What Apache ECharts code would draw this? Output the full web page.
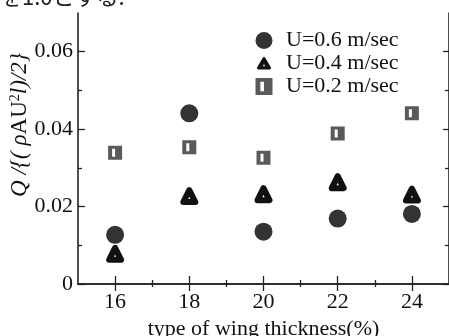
<!DOCTYPE html>
<html>
<head>
<meta charset="utf-8">
<script src="https://cdn.jsdelivr.net/npm/echarts@6/dist/echarts.min.js"></script>
<style>
  html, body { margin: 0; padding: 0; background: #fff; }
  #chart { width: 449px; height: 336px; }
</style>
</head>
<body>
<div id="chart"></div>
<script>
// wing thickness (%)
const thickness = [16, 18, 20, 22, 24]
const u06 = [0.0127, 0.0441, 0.0135, 0.0169, 0.0181]
const u04 = [0.0078, 0.0227, 0.0232, 0.0263, 0.0231]
const u02 = [0.0339, 0.0353, 0.0326, 0.0389, 0.0441]
const xMajor = [16, 18, 20, 22, 24]
const xMinor = [17, 19, 21, 23]
const yMajor = [0, 0.02, 0.04, 0.06]
const yMinor = [0.01, 0.03, 0.05]

const font = 'Liberation Serif'
const ink = '#222'
const squarePath = 'path://M0,0 H14 V14 H0 Z M4,3 V11 H7 V3 Z'
// legend triangle: small black triangle with a white dot, drawn inside an 18x17 box
const triSvg = "<svg xmlns='http://www.w3.org/2000/svg' width='18' height='17'>" +
  "<path d='M9,3.5 L14.5,13 L3.5,13 Z' fill='#111' stroke='#111' stroke-width='3' stroke-linejoin='round'/>" +
  "<path d='M9,9 L7.9,11.3 L10.1,11.3 Z' fill='#fff'/></svg>"
const legendTri = 'image://data:image/svg+xml;charset=utf-8,' + encodeURIComponent(triSvg)

const toPoints = vals => thickness.map((t, i) => [t, vals[i]])

// axis with ticks only (for minor ticks and the opposite sides of the box)
const tickAxis = (pos, values, len, base) => Object.assign({
  position: pos,
  axisLine: { show: false },
  axisTick: { show: true, inside: true, length: len, customValues: values, lineStyle: { color: ink, width: 1.3 } },
  axisLabel: { show: false },
  splitLine: { show: false }
}, base)

const chart = echarts.init(document.getElementById('chart'))

const xBase = { type: 'value', min: 15, max: 25 }
const yBase = { type: 'value', min: 0, max: 0.07 }

chart.setOption({
  animation: false,
  grid: { left: 78, right: 0, top: 13, bottom: 52, containLabel: false, outerBoundsMode: 'none' },
  graphic: [
    {
      type: 'text', left: 0, top: -14,
      style: { text: 'を1.0とする.', font: '22px "Noto Sans CJK JP"', fill: '#222' }
    },
    {
      // y axis title, rotated
      type: 'text', x: 20, y: 125, rotation: Math.PI / 2,
      style: {
        text: '{i|Q /{( ρ}{n|AU}{s|2}{i|l)/2}}',
        align: 'center', verticalAlign: 'middle',
        font: 'italic 23px "Liberation Serif"', fill: '#111',
        rich: {
          i: { fontFamily: font, fontSize: 23, fontStyle: 'italic', fill: '#111' },
          n: { fontFamily: font, fontSize: 23, fill: '#111' },
          s: { fontFamily: font, fontSize: 14, fill: '#111', verticalAlign: 'top', padding: [0, 0, 10, 0] }
        }
      }
    }
  ],
  legend: {
    orient: 'vertical',
    left: 250, top: 24,
    itemGap: 0, itemWidth: 18, itemHeight: 17,
    textStyle: { fontFamily: font, fontSize: 22, lineHeight: 23, color: '#111', padding: [0, 0, 0, 8] },
    data: [
      { name: 'U=0.6 m/sec', icon: 'circle', itemStyle: { color: '#333' } },
      { name: 'U=0.4 m/sec', icon: legendTri },
      { name: 'U=0.2 m/sec', icon: squarePath, itemStyle: { color: '#5a5a5a' } }
    ]
  },
  xAxis: [
    Object.assign({}, xBase, {
      position: 'bottom',
      name: 'type of wing thickness(%)',
      nameLocation: 'middle',
      nameGap: 32,
      nameTextStyle: { fontFamily: font, fontSize: 22, color: '#111' },
      axisLine: { show: true, lineStyle: { color: ink, width: 1.6 } },
      axisTick: { show: true, inside: true, length: 8, customValues: xMajor, lineStyle: { color: ink, width: 1.3 } },
      axisLabel: { customValues: xMajor, margin: 7, fontFamily: font, fontSize: 22, color: '#111' },
      splitLine: { show: false }
    }),
    tickAxis('bottom', xMinor, 4, xBase),
    Object.assign(tickAxis('top', xMajor, 7, xBase), { axisLine: { show: true, lineStyle: { color: ink, width: 1.6 } } }),
    tickAxis('top', xMinor, 3, xBase)
  ],
  yAxis: [
    Object.assign({}, yBase, {
      position: 'left',
      axisLine: { show: true, lineStyle: { color: ink, width: 1.6 } },
      axisTick: { show: true, inside: true, length: 7, customValues: yMajor, lineStyle: { color: ink, width: 1.3 } },
      axisLabel: { customValues: yMajor, margin: 5, fontFamily: font, fontSize: 22, color: '#111' },
      splitLine: { show: false }
    }),
    tickAxis('left', yMinor, 4, yBase),
    Object.assign(tickAxis('right', yMajor, 6, yBase), { axisLine: { show: true, lineStyle: { color: ink, width: 1.6 } } }),
    tickAxis('right', yMinor, 4, yBase)
  ],
  series: [
    {
      name: 'U=0.6 m/sec', type: 'scatter',
      symbol: 'circle', symbolSize: 18,
      itemStyle: { color: '#333', opacity: 1 },
      data: toPoints(u06)
    },
    {
      name: 'U=0.4 m/sec', type: 'scatter',
      symbol: 'triangle', symbolSize: 12,
      itemStyle: { color: '#fff', borderColor: '#111', borderWidth: 6, borderJoin: 'round', opacity: 1 },
      data: toPoints(u04)
    },
    {
      name: 'U=0.2 m/sec', type: 'scatter',
      symbol: squarePath, symbolSize: 14,
      itemStyle: { color: '#5a5a5a', opacity: 1 },
      data: toPoints(u02)
    }
  ]
})
</script>
</body>
</html>
